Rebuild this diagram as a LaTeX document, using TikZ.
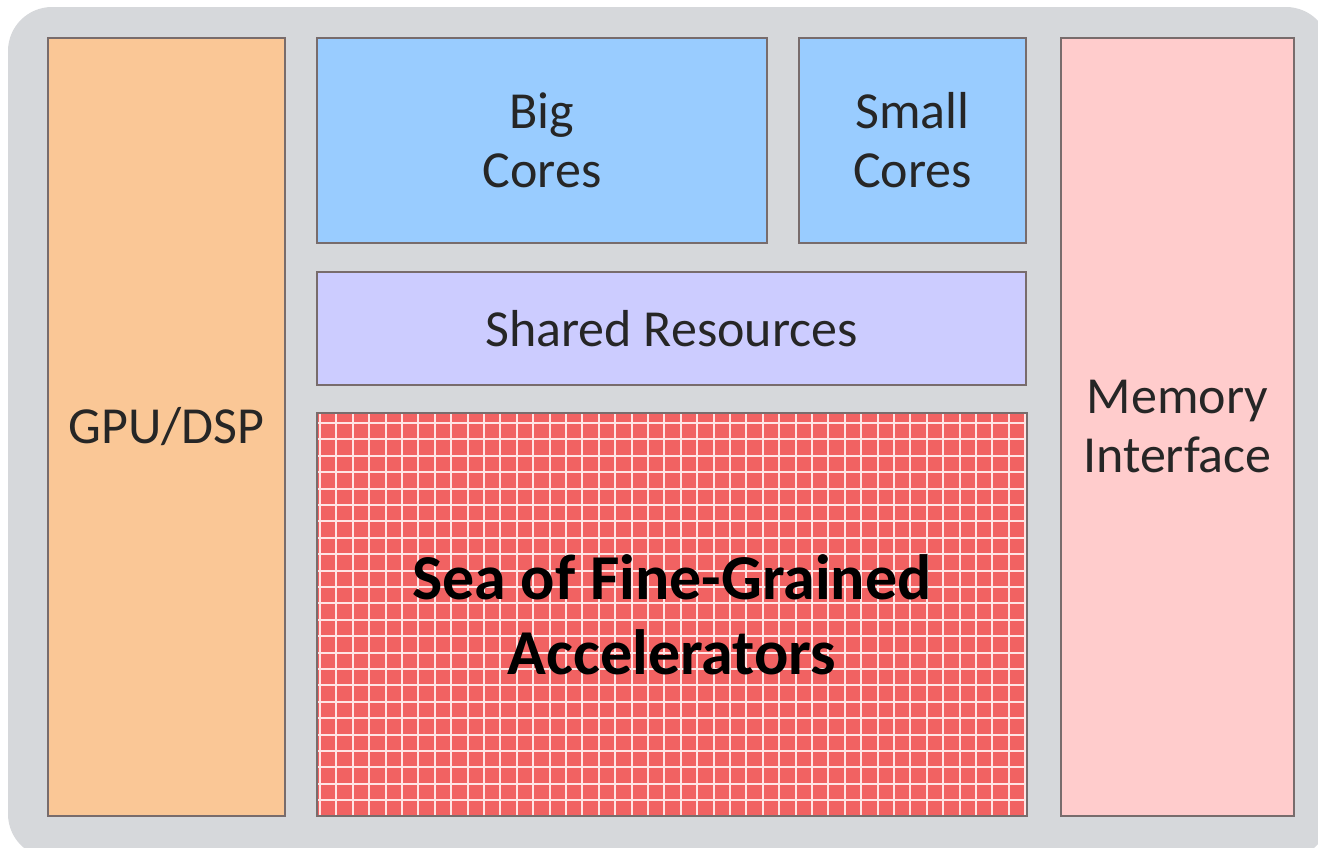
\documentclass[tikz,border=0pt]{standalone}
\usepackage{fontspec}
\setmainfont{Carlito}

\definecolor{chipgray}{RGB}{214,216,219}
\definecolor{edgegray}{RGB}{120,108,108}
\definecolor{gpucol}{RGB}{250,199,150}
\definecolor{corecol}{RGB}{153,204,255}
\definecolor{sharedcol}{RGB}{204,204,255}
\definecolor{memcol}{RGB}{255,204,204}
\definecolor{seacol}{RGB}{241,98,98}
\definecolor{sealine}{RGB}{255,228,228}
\definecolor{textgray}{RGB}{38,38,38}

\begin{document}
\begin{tikzpicture}[
    x=0.5pt, y=-0.5pt,
    block/.style={rectangle, draw=edgegray, line width=1pt, inner sep=0pt,
        text=textgray, align=center,
        font=\fontsize{26}{29.5}\selectfont},
    gridline/.style={draw=sealine, line width=1pt}
]
    \useasboundingbox (0,0) rectangle (1318,847);
    \fill[chipgray, rounded corners=22pt] (8,7) rectangle (1330,858);

    \node[block, fill=gpucol, minimum width=118.5pt, minimum height=389pt]
        (gpu) at (166.5,427) {GPU/DSP};
    \node[block, fill=corecol, minimum width=225pt, minimum height=102.5pt]
        (big) at (542,140.5) {Big\\Cores};
    \node[block, fill=corecol, minimum width=113.5pt, minimum height=102.5pt]
        (small) at (912.5,140.5) {Small\\Cores};
    \node[block, fill=sharedcol, minimum width=354.5pt, minimum height=56.5pt]
        (shared) at (671.5,328.5) {Shared Resources};
    \node[block, fill=seacol, minimum width=355pt, minimum height=201.5pt,
        text=black, font=\bfseries\fontsize{32}{37.5}\selectfont,
        path picture={
            \foreach \i in {0,...,43}
                \draw[gridline]
                    ([xshift=1.5pt+\i*8.2pt]path picture bounding box.north west) --
                    ([xshift=1.5pt+\i*8.2pt]path picture bounding box.south west);
            \foreach \j in {0,...,24}
                \draw[gridline]
                    ([yshift=-5pt-\j*8.2pt]path picture bounding box.north west) --
                    ([yshift=-5pt-\j*8.2pt]path picture bounding box.north east);
        }]
        (sea) at (672,614.5) {Sea of Fine-Grained\\Accelerators};
    \node[block, fill=memcol, minimum width=116.5pt, minimum height=389pt]
        (mem) at (1177.5,427) {Memory\\Interface};
\end{tikzpicture}
\end{document}
